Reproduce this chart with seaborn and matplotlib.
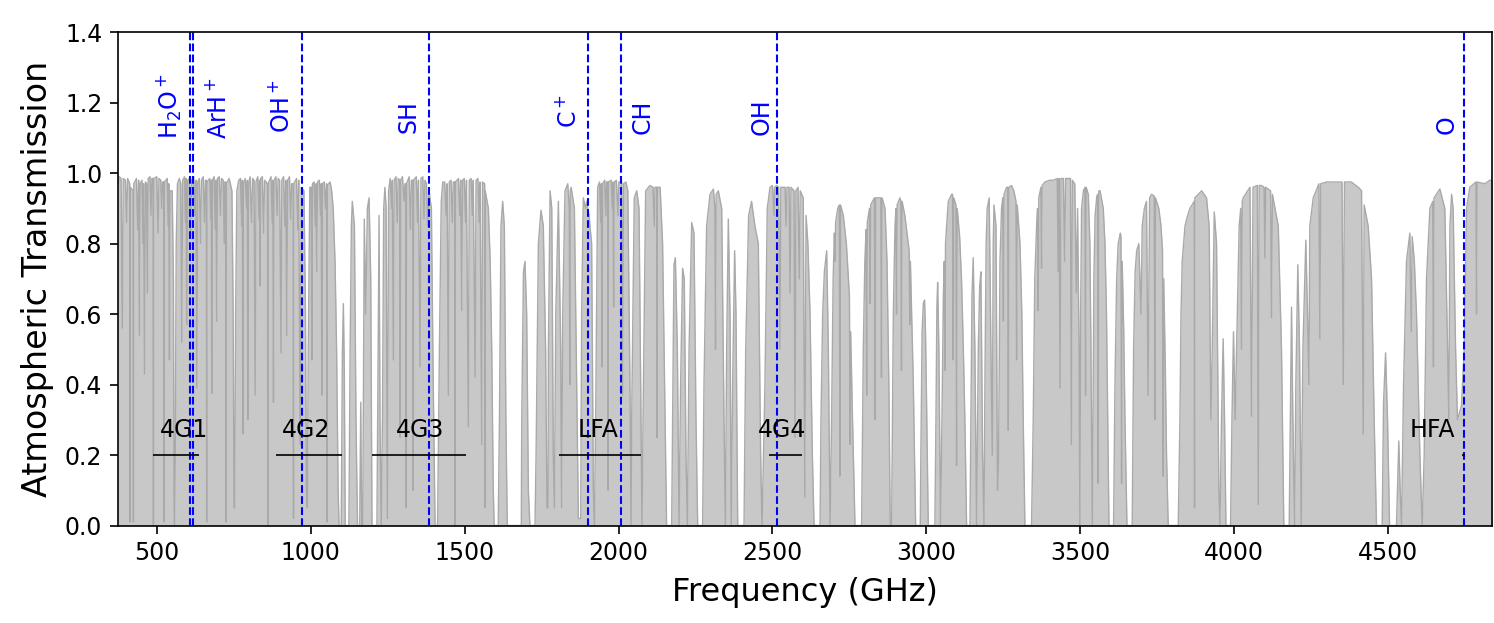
import numpy as np
import pandas as pd
import seaborn as sns
import matplotlib
matplotlib.use("Agg")
import matplotlib.pyplot as plt

# atmospheric transmission as (GHz, transmission) vertices
seg_a = [(375, 0.97), (378, 0.99), (384, 0.985), (388, 0.56), (391, 0.985), (398, 0.98), (402, 0.86),
         (405, 0.985), (412, 0.97), (413, 0.01), (414, 0.96), (423, 0.95), (424, 0.01), (425, 0.97),
         (434, 0.985), (438, 0.84), (441, 0.98), (443.5, 0.54), (446, 0.97), (452, 0.98), (455, 0.8),
         (457, 0.97), (460, 0.43), (463, 0.975), (467, 0.97), (469.5, 0.66), (472, 0.985), (478, 0.99),
         (481, 0.88), (484, 0.985), (488, 0.985), (489, 0.0), (490, 0.985), (500, 0.99), (504, 0.83),
         (507, 0.985), (513, 0.98), (516, 0.9), (519, 0.975), (522.5, 0.975), (523.5, 0.01), (524.5, 0.975),
         (534, 0.985), (537, 0.85), (539, 0.97), (541, 0.47), (543, 0.95), (550, 0.95), (554, 0.7),
         (556, 0.1), (557, 0.0), (558, 0.0), (560, 0.2), (563, 0.8)]
seg_b = [(567, 0.97), (573, 0.985), (578, 0.97), (581, 0.52), (584, 0.98), (590, 0.99),
         (593, 0.86), (595, 0.985), (597.5, 0.57), (600, 0.98), (606, 0.985), (610, 0.82), (613, 0.98),
         (620, 0.99), (624, 0.88), (627, 0.98), (630, 0.39), (633, 0.975), (638, 0.985), (642, 0.8),
         (645, 0.98), (651, 0.99), (655, 0.86), (658, 0.98), (661, 0.98), (662, 0.01), (663, 0.975),
         (672, 0.985), (675, 0.87), (677, 0.98), (678.5, 0.375), (680.5, 0.98), (686, 0.99), (690, 0.84),
         (692, 0.98), (694.5, 0.58), (697, 0.985), (703, 0.99), (707, 0.88), (710, 0.985), (716, 0.98),
         (719, 0.8), (721, 0.975), (724, 0.975), (725, 0.01), (726, 0.97), (735, 0.985), (744, 0.95),
         (748, 0.6), (751, 0.05), (753, 0.05), (756, 0.6), (760, 0.95)]
seg_c = [(766, 0.98), (772, 0.985), (776, 0.85), (778, 0.98), (779.5, 0.26), (781, 0.97), (787, 0.985),
         (792, 0.9), (794, 0.98), (795.5, 0.3), (797.5, 0.97), (803, 0.99), (808, 0.86), (811, 0.985),
         (816, 0.98), (819.5, 0.37), (822, 0.975), (828, 0.99), (832, 0.87), (834, 0.98), (835.5, 0.68),
         (837, 0.985), (843, 0.99), (847, 0.83), (850, 0.98), (859.5, 0.97), (860.5, 0.0), (861.5, 0.97),
         (871, 0.99), (875, 0.86), (877, 0.98), (879, 0.35), (881, 0.98), (887, 0.99), (891, 0.88),
         (894, 0.985), (899, 0.98), (903.5, 0.49), (906, 0.98), (912, 0.99), (916, 0.85), (919, 0.98),
         (922, 0.54), (925, 0.98), (931, 0.99), (935, 0.87), (938, 0.97), (943, 0.97), (944, 0.02),
         (945, 0.97), (954, 0.985), (958, 0.84), (961, 0.98), (965.5, 0.23), (969, 0.96), (978, 0.95),
         (983, 0.6), (986, 0.1), (989, 0.05), (992, 0.5), (997, 0.96)]
seg_d = [(1001.5, 0.96), (1003.5, 0.47), (1005.5, 0.97), (1011, 0.975), (1015, 0.85), (1017, 0.97),
         (1019.5, 0.72), (1022, 0.975), (1028, 0.98), (1032, 0.88), (1034, 0.97), (1036, 0.37),
         (1038, 0.97), (1044, 0.975), (1048, 0.9), (1051.5, 0.97), (1052.5, 0.01), (1053.5, 0.965),
         (1063, 0.975), (1068, 0.95), (1073, 0.9), (1079, 0.75), (1084, 0.5), (1089, 0.1), (1092, 0.0),
         (1099, 0.0), (1103, 0.5), (1106, 0.63), (1109, 0.45), (1112, 0.0), (1124, 0.0), (1128, 0.5),
         (1132, 0.85), (1135, 0.92), (1142, 0.85), (1147, 0.3), (1152, 0.0), (1159, 0.0), (1162.5, 0.35),
         (1165.5, 0.0), (1169, 0.0), (1174, 0.87), (1178.5, 0.6), (1184, 0.9), (1189.5, 0.93), (1195, 0.7),
         (1199, 0.0), (1215, 0.0), (1219, 0.5), (1222, 0.88), (1225, 0.3), (1229, 0.0), (1233, 0.3),
         (1237, 0.9), (1241, 0.96), (1245, 0.9), (1249, 0.02)]
seg_e = [(1253, 0.95), (1258, 0.985), (1263, 0.9), (1265, 0.98), (1268.5, 0.47), (1271, 0.98),
         (1277, 0.99), (1281, 0.86), (1284, 0.985), (1289, 0.98), (1290.5, 0.25), (1292, 0.98),
         (1298, 0.99), (1303, 0.92), (1306, 0.97), (1309, 0.97), (1310, 0.05), (1311, 0.97), (1320, 0.99),
         (1324, 0.84), (1327, 0.98), (1332, 0.98), (1333, 0.1), (1334, 0.98), (1343, 0.99), (1347, 0.86),
         (1350, 0.98), (1355, 0.45), (1358, 0.985), (1364, 0.99), (1368, 0.87), (1371, 0.98), (1376, 0.97),
         (1380, 0.85), (1384, 0.95), (1392, 0.9), (1398, 0.4), (1404, 0.0), (1412, 0.0), (1418, 0.5),
         (1424, 0.92), (1429, 0.975)]
seg_f = [(1435, 0.975), (1440, 0.88), (1443, 0.97), (1447, 0.37), (1450, 0.975), (1456, 0.98),
         (1460, 0.86), (1463, 0.975), (1468, 0.975), (1469, 0.0), (1470, 0.975), (1480, 0.985),
         (1484, 0.88), (1487, 0.98), (1490.5, 0.61), (1493, 0.98), (1499, 0.985), (1503, 0.86),
         (1506, 0.98), (1512, 0.28), (1515, 0.98), (1521, 0.985), (1525, 0.88), (1528, 0.98), (1534, 0.42),
         (1537, 0.98), (1543, 0.985), (1547, 0.86), (1550, 0.975), (1555.5, 0.23), (1558, 0.975),
         (1565, 0.97), (1566, 0.05), (1567, 0.95), (1577, 0.9), (1583, 0.75), (1588, 0.5), (1593, 0.1),
         (1596, 0.0), (1609, 0.0), (1613, 0.3), (1618, 0.85), (1623.5, 0.92), (1629, 0.85), (1634, 0.3),
         (1638.5, 0.0), (1684, 0.0)]
seg_g = [(1685.5, 0.3), (1691, 0.72), (1696, 0.75), (1701.5, 0.6), (1707, 0.1), (1712, 0.0),
         (1728.5, 0.0), (1732, 0.2), (1739.5, 0.8), (1748, 0.895), (1755.5, 0.85), (1763, 0.5),
         (1767.5, 0.05), (1771, 0.05), (1772, 0.5), (1777.5, 0.95), (1783, 0.9), (1788, 0.2),
         (1791.5, 0.05), (1796, 0.6), (1804.5, 0.92), (1812, 0.5), (1815, 0.05), (1818.5, 0.6),
         (1826, 0.95), (1835, 0.97), (1840, 0.9), (1841.5, 0.4), (1843, 0.95), (1846, 0.96), (1856.5, 0.9),
         (1864, 0.4), (1869.5, 0.02), (1877, 0.02), (1880, 0.6), (1885.5, 0.93), (1893, 0.9),
         (1896.5, 0.92), (1904, 0.88), (1912.5, 0.8), (1918, 0.1), (1921.5, 0.0), (1925.5, 0.3),
         (1932, 0.96), (1938, 0.975), (1942, 0.86), (1944, 0.97), (1946, 0.45), (1948, 0.97), (1955, 0.98),
         (1959, 0.88), (1961, 0.975), (1965, 0.975), (1966, 0.1), (1967, 0.975), (1976, 0.98), (1980, 0.9),
         (1982, 0.975), (1984, 0.62), (1986, 0.975), (1993, 0.98), (1998, 0.88), (2001, 0.975),
         (2010, 0.975), (2013, 0.37), (2016, 0.97), (2024, 0.975), (2030, 0.95), (2037, 0.4),
         (2040.5, 0.0), (2042.5, 0.3), (2051, 0.93), (2059, 0.95), (2066.5, 0.9), (2073, 0.3), (2076, 0.0),
         (2079.5, 0.3), (2088, 0.95)]
seg_h = [(2102, 0.965), (2112, 0.96), (2116, 0.85), (2118, 0.96), (2124, 0.96), (2124.5, 0.25),
         (2125.5, 0.96), (2135, 0.96), (2143, 0.8), (2151, 0.3), (2156, 0.0), (2172.5, 0.0),
         (2175.5, 0.3), (2180, 0.74), (2184.5, 0.76), (2191, 0.5), (2196.5, 0.0), (2201.5, 0.4),
         (2208, 0.73), (2213.5, 0.7), (2219, 0.2), (2223.5, 0.0), (2229, 0.5), (2237.5, 0.86),
         (2245, 0.83), (2251.5, 0.3), (2257, 0.0), (2273, 0.0), (2277.5, 0.4), (2286, 0.85), (2297, 0.94),
         (2308, 0.955), (2313, 0.9), (2315, 0.5), (2317, 0.94), (2324, 0.95), (2335, 0.9), (2342.5, 0.3),
         (2347, 0.0), (2351, 0.5), (2356.5, 0.87), (2362, 0.6), (2366, 0.0), (2370.5, 0.4), (2377, 0.78),
         (2381.5, 0.6), (2387, 0.0), (2407.5, 0.0), (2413, 0.5), (2422.5, 0.88), (2432, 0.92),
         (2443, 0.85), (2454, 0.8), (2461.5, 0.2), (2466, 0.0), (2475.5, 0.4), (2483, 0.9)]
seg_i = [(2492, 0.96), (2500, 0.965), (2505, 0.88), (2507, 0.96), (2513.5, 0.965), (2520, 0.96),
         (2524, 0.5), (2527, 0.96), (2541, 0.96), (2544, 0.85), (2547, 0.96), (2554, 0.96), (2557, 0.66),
         (2560, 0.96), (2570, 0.95), (2573, 0.25), (2576, 0.95), (2583, 0.96), (2587, 0.7), (2590, 0.95),
         (2600, 0.93), (2605, 0.08), (2609, 0.88), (2615, 0.8), (2622, 0.6), (2629.5, 0.2), (2635, 0.0),
         (2654.5, 0.0), (2657.5, 0.3), (2663, 0.6), (2668.5, 0.72), (2676, 0.78), (2681.5, 0.5),
         (2687, 0.0), (2692, 0.3), (2697, 0.7), (2701, 0.83), (2703, 0.75), (2705, 0.86), (2712, 0.9),
         (2717, 0.91), (2719, 0.14), (2721, 0.91), (2730, 0.88), (2740, 0.8), (2750, 0.65), (2752, 0.23),
         (2754, 0.55), (2760, 0.3), (2768, 0.0), (2789.5, 0.0), (2795, 0.5), (2800, 0.75), (2804, 0.84),
         (2806, 0.37), (2808, 0.86), (2815, 0.9), (2817, 0.63), (2819, 0.91), (2831, 0.93), (2833, 0.3),
         (2835, 0.93), (2852, 0.93), (2854, 0.42), (2856, 0.93), (2865.5, 0.9), (2872, 0.75), (2878, 0.4),
         (2882.5, 0.0), (2887, 0.0), (2892.5, 0.6), (2898, 0.85), (2901, 0.9), (2903, 0.6), (2905, 0.91),
         (2914, 0.93), (2917, 0.92), (2919, 0.44), (2921, 0.92), (2930, 0.88), (2941, 0.8), (2944, 0.78),
         (2946, 0.57), (2948, 0.75), (2957.5, 0.4), (2965, 0.0), (2980, 0.0)]
seg_j = [(2982, 0.2), (2986, 0.55), (2990, 0.63), (2994, 0.64), (2997, 0.55), (3000.5, 0.35), (3006, 0.0),
         (3027.5, 0.0), (3031, 0.3), (3034, 0.62), (3036.5, 0.69), (3040.5, 0.5), (3046, 0.0),
         (3050.5, 0.3), (3055, 0.65), (3058, 0.75), (3060, 0.44), (3062, 0.8), (3071, 0.92), (3082, 0.94),
         (3085, 0.94), (3087, 0.47), (3089, 0.93), (3096, 0.91), (3098, 0.17), (3100, 0.9), (3108, 0.82),
         (3114, 0.7), (3120, 0.5), (3125, 0.3), (3130.5, 0.0), (3141.5, 0.0), (3144.5, 0.3), (3148, 0.65),
         (3152, 0.76), (3157.5, 0.5), (3163, 0.0), (3168.5, 0.5), (3173, 0.68), (3177, 0.72),
         (3182.5, 0.2), (3187, 0.0), (3190, 0.4), (3194, 0.8), (3197.5, 0.9), (3204, 0.93), (3209.5, 0.5),
         (3214, 0.2), (3217, 0.8), (3219.5, 0.91), (3226, 0.85), (3231, 0.1), (3234.5, 0.2), (3239, 0.75),
         (3244, 0.9), (3248, 0.93), (3250, 0.58), (3252, 0.94), (3260.5, 0.96), (3264, 0.96), (3266, 0.27),
         (3268, 0.96), (3276.5, 0.965), (3284, 0.95), (3291, 0.92), (3293, 0.47), (3295, 0.91),
         (3304, 0.8), (3310, 0.6), (3314.5, 0.3), (3320, 0.0), (3341.5, 0.0), (3347, 0.3), (3352, 0.7),
         (3358, 0.85), (3361, 0.9), (3363, 0.61), (3365, 0.93), (3372, 0.96), (3374, 0.73), (3376, 0.965),
         (3385, 0.975), (3400, 0.98), (3412, 0.98)]
seg_k = [(3425, 0.985), (3428, 0.72), (3431, 0.985), (3434, 0.39), (3437, 0.985), (3445, 0.985),
         (3449, 0.75), (3452, 0.985), (3468, 0.985), (3471, 0.23), (3474, 0.98), (3482, 0.97), (3487, 0.66),
         (3491, 0.9), (3496, 0.5), (3498.5, 0.0), (3501, 0.6), (3504, 0.9), (3510, 0.95), (3515, 0.96),
         (3517, 0.37), (3519, 0.96), (3526, 0.94), (3531, 0.8), (3534.5, 0.5), (3539, 0.0), (3544, 0.7),
         (3548, 0.88), (3553, 0.93), (3556, 0.94), (3558, 0.12), (3560, 0.95), (3564, 0.95), (3574.5, 0.9),
         (3580, 0.8), (3585, 0.6), (3593, 0.0), (3608, 0.0), (3612.5, 0.4), (3618, 0.7), (3623, 0.8),
         (3630, 0.83), (3632, 0.82), (3634, 0.12), (3636, 0.75), (3641, 0.55), (3645, 0.3), (3651.5, 0.0),
         (3668.5, 0.0), (3673, 0.5), (3678, 0.72), (3683, 0.78), (3690, 0.8), (3697, 0.6), (3701, 0.85),
         (3708, 0.9), (3715, 0.92), (3720, 0.37), (3725, 0.93), (3731.5, 0.94), (3740, 0.935), (3742, 0.3),
         (3744, 0.93), (3755, 0.9), (3762, 0.85), (3767, 0.78), (3769, 0.14), (3771, 0.7), (3776, 0.45),
         (3780, 0.2), (3785.5, 0.0), (3818, 0.0), (3823.5, 0.3), (3827, 0.6), (3831, 0.75), (3840, 0.85),
         (3848.5, 0.88), (3856, 0.9)]
seg_l = [(3870, 0.92), (3871, 0.05), (3872, 0.93), (3894, 0.95), (3910, 0.93), (3918.5, 0.85),
         (3924, 0.3), (3928.5, 0.5), (3935, 0.89), (3942.5, 0.8), (3950, 0.1), (3953.5, 0.0),
         (3958.5, 0.3), (3964, 0.53), (3968.5, 0.3), (3973, 0.0), (3988, 0.0), (3992.5, 0.3),
         (3997.5, 0.55), (4003, 0.3), (4007.5, 0.5), (4016, 0.85), (4021, 0.9), (4023.5, 0.5), (4026, 0.92),
         (4029, 0.93), (4051, 0.96), (4056, 0.31), (4061, 0.96), (4075, 0.965), (4078, 0.06), (4081, 0.965),
         (4089, 0.965), (4097, 0.96), (4099.5, 0.76), (4102, 0.96), (4118, 0.95), (4121, 0.59), (4124, 0.94),
         (4143, 0.85), (4153.5, 0.5), (4161, 0.0), (4178.5, 0.0), (4182, 0.3), (4186, 0.62), (4190.5, 0.3),
         (4196, 0.0), (4200, 0.4), (4206.5, 0.74), (4212, 0.5), (4217.5, 0.0), (4223, 0.5), (4232.5, 0.81),
         (4238, 0.6), (4242.5, 0.4), (4245.5, 0.85), (4256.5, 0.93), (4275, 0.97), (4278, 0.53),
         (4281, 0.97), (4300, 0.975)]
seg_m = [(4327, 0.975), (4350, 0.975), (4354, 0.4), (4358, 0.975), (4380, 0.975), (4403, 0.96),
         (4413.5, 0.95), (4419, 0.26), (4422, 0.91), (4435, 0.85), (4446, 0.7), (4454.5, 0.3), (4462, 0.0),
         (4480.5, 0.0), (4485, 0.35), (4491.5, 0.49), (4498, 0.3), (4504.5, 0.0), (4527, 0.0),
         (4531.5, 0.15), (4534.5, 0.24), (4539, 0.1), (4543.5, 0.0), (4550, 0.4), (4559.5, 0.75),
         (4570.5, 0.83), (4575, 0.55), (4578, 0.82), (4585, 0.75), (4592, 0.6), (4603, 0.2), (4610.5, 0.0),
         (4617, 0.2), (4624.5, 0.7), (4635.5, 0.9), (4645, 0.92), (4647, 0.45), (4649, 0.93), (4668, 0.955),
         (4684, 0.9), (4693, 0.5), (4697, 0.3), (4700.5, 0.85), (4706, 0.94), (4711, 0.9), (4719, 0.5),
         (4725, 0.3), (4738, 0.34), (4747, 0.5), (4754.5, 0.9), (4765, 0.96), (4785, 0.975), (4787, 0.6),
         (4789, 0.975), (4814, 0.97), (4830, 0.98), (4840, 0.98)]

# molecular lines (GHz) and where their labels sit
line_names = [r'$\mathregular{H_2O^+}$', r'$\mathregular{ArH^+}$', r'$\mathregular{OH^+}$', 'SH',
              r'$\mathregular{C^+}$', 'CH', 'OH', 'O']
line_freqs = [607.2, 617.5, 971.8, 1383.2, 1900.5, 2006.8, 2514.3, 4744.8]
label_x = [542, 701, 906, 1316, 1836, 2079, 2466, 4690]
label_y = [1.19, 1.185, 1.19, 1.162, 1.177, 1.16, 1.16, 1.137]

# receiver bands
band_names = ['4G1', '4G2', '4G3', 'LFA', '4G4', 'HFA']
band_lo = [487, 886, 1199, 1808, 2489, 4740]
band_hi = [638, 1103, 1504, 2073, 2595, 4750]
band_label_x = [589, 985, 1356, 1934, 2531, 4642]

spec = pd.DataFrame(seg_a + seg_b + seg_c + seg_d + seg_e + seg_f + seg_g + seg_h + seg_i + seg_j
                    + seg_k + seg_l + seg_m, columns=['freq', 'trans'])

sns.set_style('ticks')
plt.rcParams['font.family'] = ['DejaVu Sans']
plt.rcParams.update({'text.color': 'black', 'axes.labelcolor': 'black',
                     'xtick.color': 'black', 'ytick.color': 'black', 'axes.edgecolor': 'black'})

fig = plt.figure(figsize=(14.94, 6.23), dpi=100)
ax = fig.add_axes([0.0792, 0.1565, 0.9192, 0.7917])

ax.fill_between(spec['freq'], 0, spec['trans'], color='#c8c8c8', linewidth=0)
sns.lineplot(data=spec, x='freq', y='trans', sort=False, estimator=None, color='#a9a9a9',
             linewidth=1.0, ax=ax)

for name, f, lx, ly in zip(line_names, line_freqs, label_x, label_y):
    ax.axvline(f, color='blue', linestyle='--', linewidth=1.5)
    ax.text(lx, ly, name, rotation=90, color='blue', fontsize=17, ha='center', va='center')

for name, lo, hi, tx in zip(band_names, band_lo, band_hi, band_label_x):
    ax.hlines(0.2, lo, hi, color='black', linewidth=1.2)
    ax.text(tx, 0.25, name, fontsize=17, ha='center', va='baseline')

ax.set_xlim(375, 4836)
ax.set_ylim(0, 1.4)
ax.set_xticks(np.arange(500, 4501, 500))
ax.set_yticks(np.arange(0, 1.41, 0.2))
ax.tick_params(labelsize=17, length=5.5, width=1.2, pad=6)
ax.set_xlabel('Frequency (GHz)', fontsize=23, labelpad=8)
ax.set_ylabel('Atmospheric Transmission', fontsize=24, labelpad=8)
for s in ax.spines.values():
    s.set_linewidth(1.2)

fig.savefig('out.png', dpi=100)
